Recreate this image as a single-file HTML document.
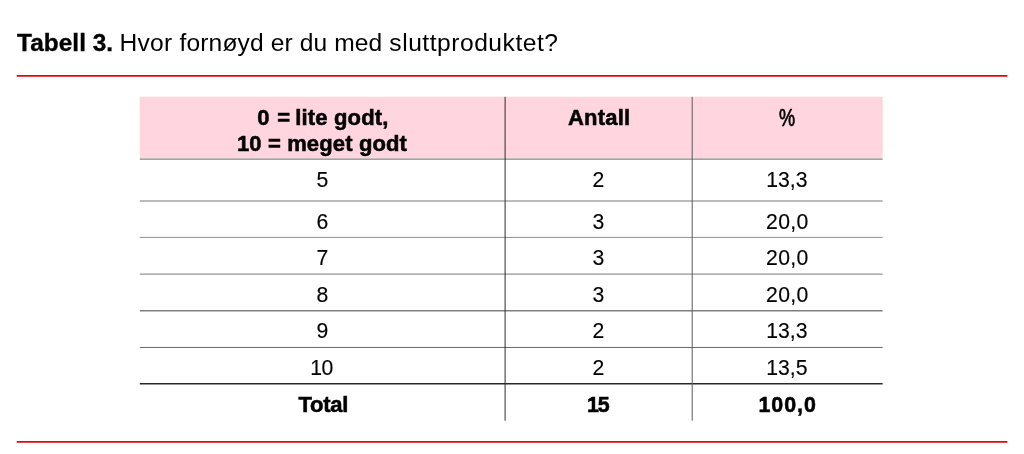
<!DOCTYPE html>
<html lang="no">
<head>
<meta charset="utf-8">
<title>Tabell 3</title>
<style>
html,body{margin:0;padding:0;background:#fff;}
body{width:1024px;height:454px;position:relative;overflow:hidden;font-family:"Liberation Sans",sans-serif;color:#000;}
#wrap{position:absolute;left:0;top:0;width:1024px;height:454px;margin:0;padding:0;will-change:transform;}
figcaption,.tbl,.row{display:block;margin:0;padding:0;position:static;}
svg{position:absolute;left:0;top:0;}
.t{position:absolute;white-space:nowrap;line-height:30px;height:30px;top:28px;}
.c{position:absolute;font-size:21.2px;line-height:26px;height:26px;text-align:center;white-space:nowrap;-webkit-text-stroke:0.15px #000;}
.c1{left:140px;width:365px;}
.c2{left:505px;width:187px;}
.c3{left:692px;width:191px;}
.b{font-weight:700;font-size:22px;letter-spacing:0.2px;-webkit-text-stroke:0.55px #000;}
.bn{font-weight:700;font-size:21.4px;letter-spacing:0.9px;-webkit-text-stroke:0.55px #000;}
.pc{display:inline-block;transform:translateX(-0.25px) scaleX(0.785);}
</style>
</head>
<body>
<figure id="wrap">
<svg aria-hidden="true" width="1024" height="454" viewBox="0 0 1024 454">
  <rect x="139.7" y="96.7" width="743" height="61.6" fill="#ffd6e0"/>
  <g stroke-linecap="butt" fill="none">
    <line x1="16.8" x2="1007.4" y1="75.8" y2="75.8" stroke="#e30613" stroke-width="1.8"/>
    <line x1="16.8" x2="1007.4" y1="441.9" y2="441.9" stroke="#e30613" stroke-width="1.8"/>
    <line x1="139.8" x2="882.6" y1="159.2" y2="159.2" stroke="#858585" stroke-width="1.2"/>
    <line x1="139.8" x2="882.6" y1="201.0" y2="201.0" stroke="#777" stroke-width="1"/>
    <line x1="139.8" x2="882.6" y1="237.4" y2="237.4" stroke="#909090" stroke-width="1"/>
    <line x1="139.8" x2="882.6" y1="274.1" y2="274.1" stroke="#7b7b7b" stroke-width="1"/>
    <line x1="139.8" x2="882.6" y1="310.75" y2="310.75" stroke="#7f7f7f" stroke-width="1.3"/>
    <line x1="139.8" x2="882.6" y1="347.45" y2="347.45" stroke="#686868" stroke-width="1"/>
    <line x1="139.8" x2="882.6" y1="383.73" y2="383.73" stroke="#282828" stroke-width="1.32"/>
    <line x1="505.1" x2="505.1" y1="96.8" y2="420.7" stroke="#2a2a2a" stroke-width="1"/>
    <line x1="692.2" x2="692.2" y1="96.8" y2="420.7" stroke="#5c5c5c" stroke-width="1"/>
  </g>
</svg>
<figcaption>
<strong class="t" style="left:17.1px;font-weight:700;font-size:24.4px;letter-spacing:0.03px;-webkit-text-stroke:0.35px #000">Tabell 3.</strong>
<span class="t" style="left:119.38px;font-size:24.6px;letter-spacing:0.29px">Hvor <span style="letter-spacing:0.11px">fornøyd er du med </span><span style="letter-spacing:0.52px">sluttproduktet?</span></span>
</figcaption>

<div class="tbl" role="table" aria-label="Tabell 3">
<div class="row" role="row">
<div role="columnheader" class="c c1 b" style="top:105px;margin-left:0.4px;letter-spacing:0.18px">0<span style="letter-spacing:1.7px"> </span>=<span style="letter-spacing:-1.3px"> </span>lite godt,</div>
<div role="presentation" class="c c1 b" style="top:131px;margin-left:-0.5px;letter-spacing:0.137px">10 = meget godt</div>
<div role="columnheader" class="c c2 b" style="top:105px;margin-left:0.65px;letter-spacing:0.19px">Antall</div>
<div role="columnheader" class="c c3 b" style="top:105px;letter-spacing:0;font-weight:400;font-size:23px;-webkit-text-stroke:0.7px #000"><span class="pc">%</span></div>
</div>
<div class="row" role="row"><div role="cell" class="c c1" style="top:167px">5</div><div role="cell" class="c c2" style="top:167px">2</div><div role="cell" class="c c3" style="top:167px;margin-left:-0.6px">13,3</div></div>
<div class="row" role="row"><div role="cell" class="c c1" style="top:209px">6</div><div role="cell" class="c c2" style="top:209px">3</div><div role="cell" class="c c3" style="top:209px;margin-left:-0.17px;letter-spacing:0.34px">20,0</div></div>
<div class="row" role="row"><div role="cell" class="c c1" style="top:245px">7</div><div role="cell" class="c c2" style="top:245px">3</div><div role="cell" class="c c3" style="top:245px;margin-left:-0.17px;letter-spacing:0.34px">20,0</div></div>
<div class="row" role="row"><div role="cell" class="c c1" style="top:282px">8</div><div role="cell" class="c c2" style="top:282px">3</div><div role="cell" class="c c3" style="top:282px;margin-left:-0.17px;letter-spacing:0.34px">20,0</div></div>
<div class="row" role="row"><div role="cell" class="c c1" style="top:318px">9</div><div role="cell" class="c c2" style="top:318px">2</div><div role="cell" class="c c3" style="top:318px;margin-left:-0.6px">13,3</div></div>
<div class="row" role="row"><div role="cell" class="c c1" style="top:355px;margin-left:-1.1px;letter-spacing:-0.7px">10</div><div role="cell" class="c c2" style="top:355px">2</div><div role="cell" class="c c3" style="top:355px;margin-left:-0.6px">13,5</div></div>
<div class="row" role="row"><div role="cell" class="c c1 b" style="top:392px;margin-left:0.83px;letter-spacing:-0.26px">Total</div><div role="cell" class="c c2 bn" style="top:392px;margin-left:-0.8px;letter-spacing:-1.2px">15</div><div role="cell" class="c c3 bn" style="top:392px;margin-left:0.15px;letter-spacing:1.0px">100,0</div></div>
</div>
</figure>
</body>
</html>
